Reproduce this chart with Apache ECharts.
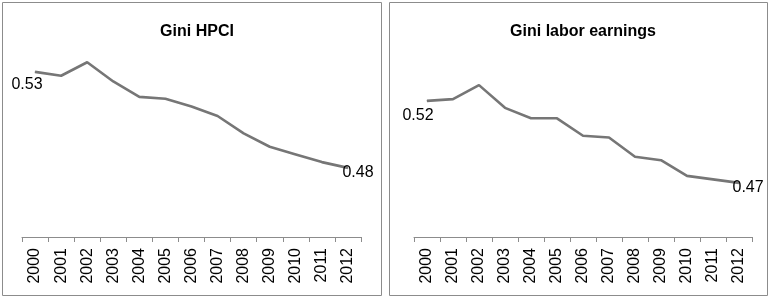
<!DOCTYPE html>
<html>
<head>
<meta charset="utf-8">
<script src="https://cdn.jsdelivr.net/npm/echarts@6/dist/echarts.min.js"></script>
<style>
  html, body { margin: 0; padding: 0; background: #fff; }
  #chart { width: 770px; height: 299px; }
</style>
</head>
<body>
<div id="chart"></div>
<script>
const years = ['2000', '2001', '2002', '2003', '2004', '2005', '2006',
  '2007', '2008', '2009', '2010', '2011', '2012'];
const giniHpci = [0.526, 0.524, 0.531, 0.521, 0.513, 0.512, 0.508,
  0.503, 0.494, 0.487, 0.483, 0.479, 0.476];
const giniLabor = [0.518, 0.519, 0.527, 0.514, 0.508, 0.508, 0.498,
  0.497, 0.486, 0.484, 0.475, 0.473, 0.471];

const font = '"Liberation Sans", Arial, sans-serif';
const lineColor = '#767676';

function xAxis(gridIndex) {
  return {
    type: 'category',
    gridIndex,
    data: years,
    boundaryGap: true,
    axisLine: { lineStyle: { color: '#8c8c8c', width: 1 } },
    axisTick: { show: true, length: 5, lineStyle: { color: '#8c8c8c' } },
    axisLabel: {
      rotate: 90,
      margin: 11,
      fontSize: 16,
      fontFamily: font,
      color: '#000',
      interval: 0,
    },
  };
}

function yAxis(gridIndex, min, max) {
  return {
    type: 'value',
    gridIndex,
    min,
    max,
    show: false,
    splitLine: { show: false },
  };
}

// only first and last points carry a label
function endLabels(data, first, last) {
  return data.map((v, i) => {
    if (i === 0) return { value: v, label: Object.assign({ show: true }, first) };
    if (i === data.length - 1) return { value: v, label: Object.assign({ show: true }, last) };
    return v;
  });
}

function lineSerie(idx, data, first, last) {
  return {
    type: 'line',
    xAxisIndex: idx,
    yAxisIndex: idx,
    data: endLabels(data, first, last),
    showSymbol: true,
    symbol: 'circle',
    symbolSize: 1,
    itemStyle: { color: lineColor },
    lineStyle: { color: lineColor, width: 2.6 },
    label: {
      show: false,
      fontSize: 16,
      fontFamily: font,
      color: '#000',
      formatter: (p) => p.value.toFixed(2),
    },
    silent: true,
  };
}

const chart = echarts.init(document.getElementById('chart'));
chart.setOption({
  animation: false,
  title: [
    {
      text: 'Gini HPCI',
      left: 192,
      top: 19,
      textAlign: 'center',
      textStyle: { fontSize: 16, fontWeight: 'bold', fontFamily: font, color: '#000' },
    },
    {
      text: 'Gini labor earnings',
      left: 578,
      top: 19,
      textAlign: 'center',
      textStyle: { fontSize: 16, fontWeight: 'bold', fontFamily: font, color: '#000' },
    },
  ],
  graphic: [
    { type: 'rect', shape: { x: 2.5, y: 2.5, width: 379, height: 293 },
      style: { fill: 'none', stroke: '#8c8c8c', lineWidth: 1 } },
    { type: 'rect', shape: { x: 389.5, y: 2.5, width: 378, height: 293 },
      style: { fill: 'none', stroke: '#8c8c8c', lineWidth: 1 } },
  ],
  grid: [
    { left: 22, width: 339, top: 45, height: 192 },
    { left: 414, width: 338, top: 45, height: 192 },
  ],
  xAxis: [xAxis(0), xAxis(1)],
  yAxis: [yAxis(0, 0.44, 0.54), yAxis(1, 0.44, 0.55)],
  series: [
    lineSerie(0, giniHpci,
      { position: 'bottom', distance: 3, offset: [-8, 1] },
      { position: 'right', distance: 0, offset: [-6, 5] }),
    lineSerie(1, giniLabor,
      { position: 'bottom', distance: 3, offset: [-9, 3] },
      { position: 'right', distance: 0, offset: [-7, 5] }),
  ],
});
</script>
</body>
</html>
